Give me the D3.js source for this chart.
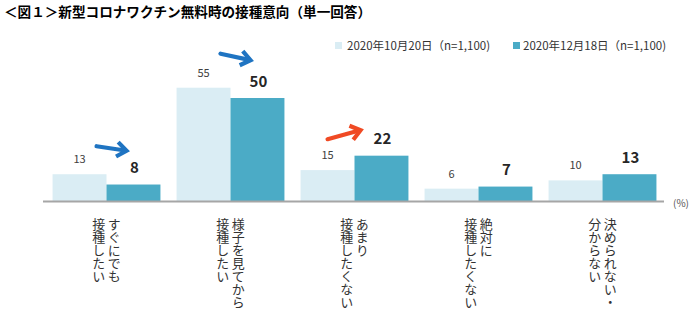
<!DOCTYPE html>
<html><head><meta charset="utf-8">
<script src="https://cdn.jsdelivr.net/npm/d3@7"></script>
<style>
html,body{margin:0;padding:0;background:#fff;}
svg{display:block;font-family:"Noto Sans CJK JP","Noto Sans",sans-serif;}
</style></head>
<body><svg id="c" width="700" height="331"></svg>
<script>
const title = "＜図１＞新型コロナワクチン無料時の接種意向（単一回答）";
const categories = ["すぐにでも\n接種したい","様子を見てから\n接種したい","あまり\n接種したくない","絶対に\n接種したくない","決められない・\n分からない"];
const seriesNames = ["2020年10月20日（n=1,100)","2020年12月18日（n=1,100)"];
const oct = [13,55,15,6,10];
const dec = [8,50,22,7,13];
const unitLabel = "(%)";
const arrows = [
  {cat:0, dir:"down", color:"#1f74c2"},
  {cat:1, dir:"down", color:"#1f74c2"},
  {cat:2, dir:"up", color:"#f04a24"}
];
const colors = ["#daedf4","#4babc6"];

const svg = d3.select("#c");
const x0 = d3.scaleBand().domain(d3.range(categories.length)).range([44.5,664.5]).paddingInner(0.13).paddingOuter(0.065);
const x1 = d3.scaleBand().domain([0,1]).range([0,x0.bandwidth()]);
const y = d3.scaleLinear().domain([0,60]).range([201,77.4]);

// title
svg.append("text").attr("x",4).attr("y",17).attr("font-size",13.6).attr("font-weight","bold").attr("fill","#000").text(title);

// legend
const lg = svg.append("g");
[[335,347],[513,523]].forEach((p,i)=>{
  lg.append("rect").attr("x",p[0]).attr("y",42).attr("width",7).attr("height",7).attr("fill",colors[i]);
  lg.append("text").attr("x",p[1]).attr("y",50).attr("font-size",11.5).attr("fill","#333").text(seriesNames[i]);
});

// bars
const series = [oct, dec];
series.forEach((vals,s)=>{
  svg.append("g").selectAll("rect").data(vals).join("rect")
    .attr("x",(d,i)=>x0(i)+x1(s))
    .attr("y",d=>y(d))
    .attr("width",x1.bandwidth())
    .attr("height",d=>y(0)-y(d))
    .attr("fill",colors[s]);
});
// labels
svg.append("g").selectAll("text").data(oct).join("text")
  .attr("x",(d,i)=>x0(i)+x1(0)+x1.bandwidth()/2)
  .attr("y",d=>y(d)-11)
  .attr("text-anchor","middle").attr("font-size",11).attr("fill","#404040")
  .text(d=>d);
svg.append("g").selectAll("text").data(dec).join("text")
  .attr("x",(d,i)=>x0(i)+x1(1)+x1.bandwidth()/2+1)
  .attr("y",d=>y(d)-11.5)
  .attr("text-anchor","middle").attr("font-size",15).attr("font-weight","bold").attr("fill","#262626")
  .text(d=>d);

// axis line
svg.append("line").attr("x1",43).attr("x2",664).attr("y1",y(0)+0.5).attr("y2",y(0)+0.5)
  .attr("stroke","#a6a6a6").attr("stroke-width",2);
svg.append("text").attr("x",673).attr("y",207).attr("font-size",10).attr("fill","#555").text(unitLabel);

// category labels vertical
categories.forEach((c,i)=>{
  const lines = c.split("\n");
  const cx = x0(i)+x0.bandwidth()/2;
  const gap = 15.5;
  lines.forEach((ln,j)=>{
    const lx = cx + (lines.length-1)*gap/2 - j*gap;
    svg.append("text").attr("x",lx).attr("y",218)
      .style("writing-mode","vertical-rl")
      .attr("font-size",13).attr("fill","#333")
      .text(ln);
  });
});

// arrows
arrows.forEach(a=>{
  const bs = x0(a.cat);
  const top = y(Math.max(oct[a.cat],dec[a.cat]));
  let sx, sy, ex, ey;
  if(a.dir==="down"){
    sx = bs+44; ex = bs+74;
    sy = top - (a.cat===0?28:34); ey = sy + (a.cat===0?4.5:6.5);
  } else {
    sx = bs+27; ex = bs+60; sy = top-16.5; ey = top-25.5;
  }
  const ang = Math.atan2(ey-sy, ex-sx);
  const hl = 12, ha = 0.65;
  const g = svg.append("g").attr("stroke",a.color).attr("stroke-width",4.2).attr("fill","none").attr("stroke-linecap","round").attr("stroke-linejoin","miter");
  g.append("line").attr("x1",sx).attr("y1",sy).attr("x2",ex-1.5*Math.cos(ang)).attr("y2",ey-1.5*Math.sin(ang));
  g.append("path").attr("d",
    `M${ex-hl*Math.cos(ang-ha)},${ey-hl*Math.sin(ang-ha)}L${ex},${ey}L${ex-hl*Math.cos(ang+ha)},${ey-hl*Math.sin(ang+ha)}`)
    .attr("stroke-linecap","butt");
});
</script></body></html>
